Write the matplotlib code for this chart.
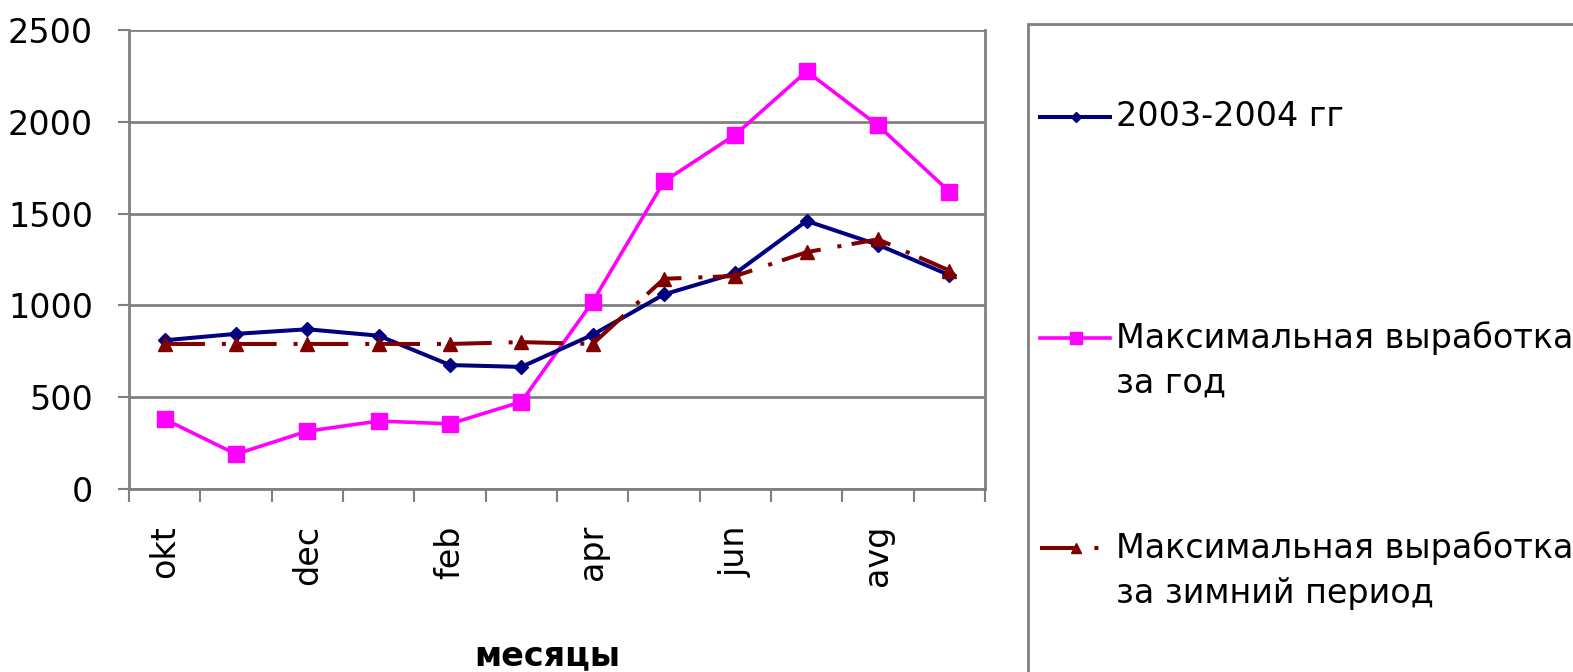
import matplotlib
matplotlib.use("Agg")
import matplotlib.pyplot as plt
from matplotlib.lines import Line2D
from matplotlib.patches import Rectangle
import numpy as np

months = ["okt", "nov", "dec", "jan", "feb", "mar", "apr", "may", "jun", "jul", "avg", "sep"]
shown_labels = ["okt", "", "dec", "", "feb", "", "apr", "", "jun", "", "avg", ""]
series_2003 = [810, 845, 870, 835, 675, 665, 840, 1060, 1175, 1460, 1330, 1165]
max_year = [380, 190, 315, 370, 355, 475, 1020, 1675, 1930, 2275, 1980, 1620]
max_winter = [790, 790, 790, 790, 790, 800, 790, 1145, 1160, 1290, 1360, 1190]
labels = [["2003-2004 гг"], ["Максимальная выработка", "за год"],
          ["Максимальная выработка", "за зимний период"]]
yticks = [0, 500, 1000, 1500, 2000, 2500]

plt.rcParams['font.family'] = ['DejaVu Sans']

W, H = 1573, 672
fig = plt.figure(figsize=(W / 100, H / 100), dpi=100)
ax = fig.add_axes([129 / W, 1 - 489 / H, (985 - 129) / W, (489 - 30) / H])

x = np.arange(len(months))
grey = "#808080"
winter_dash = (10, 4.2, 1, 2.6)
ln1, = ax.plot(x, series_2003, color="#000080", lw=2.9, marker="D", ms=7, zorder=4)
ln2, = ax.plot(x, max_year, color="#FF00FF", lw=2.6, marker="s", ms=11, zorder=3)
ln3, = ax.plot(x, max_winter, color="#800000", lw=2.9, marker="^", ms=10,
               linestyle=(0, winter_dash), zorder=5)

ax.set_xlim(-0.5, len(months) - 0.5)
ax.set_ylim(0, 2500)
ax.set_yticks(yticks)
ax.set_yticklabels([str(v) for v in yticks], fontsize=24)
ax.yaxis.grid(True, color=grey, lw=2)
ax.set_axisbelow(True)
ax.tick_params(axis='y', direction='out', length=8, width=1.5, color=grey, pad=18)

ax.set_xticks(x)
ax.set_xticklabels(shown_labels, rotation=90, fontsize=24)
ax.set_xticks(np.arange(-0.5, len(months)), minor=True)
ax.tick_params(axis='x', which='major', length=0, pad=26)
ax.tick_params(axis='x', which='minor', direction='out', length=9, width=1.5, color=grey)

for side in ["left", "right", "bottom", "top"]:
    ax.spines[side].set_color(grey)
    ax.spines[side].set_linewidth(2)
ax.spines["top"].set_visible(False)

fig.text(547 / W, 1 - 656 / H, "месяцы", fontsize=24, fontweight="bold", ha="center", va="center")

# legend box
fig.add_artist(Rectangle((1028 / W, -0.1), 1.0, 1 - 24 / H + 0.1, transform=fig.transFigure,
                         fill=False, edgecolor=grey, lw=2))

entries = [(ln1, labels[0], 117, "-"), (ln2, labels[1], 338, "-"),
           (ln3, labels[2], 548, (0, (9, 4.5, 1, 3.3)))]
for line, lab, yy, ls in entries:
    yf = 1 - yy / H
    fig.add_artist(Line2D([1040 / W, 1110 / W], [yf, yf], transform=fig.transFigure,
                          color=line.get_color(), lw=line.get_linewidth(), linestyle=ls))
    fig.add_artist(Line2D([1076 / W], [yf], transform=fig.transFigure,
                          color=line.get_color(), marker=line.get_marker(),
                          ms=line.get_markersize() * 0.75, linestyle="none"))
    for i, part in enumerate(lab):
        fig.text(1116 / W, 1 - (yy + 45 * i) / H, part, fontsize=24, ha="left", va="center")

fig.savefig("out.png", dpi=100)
